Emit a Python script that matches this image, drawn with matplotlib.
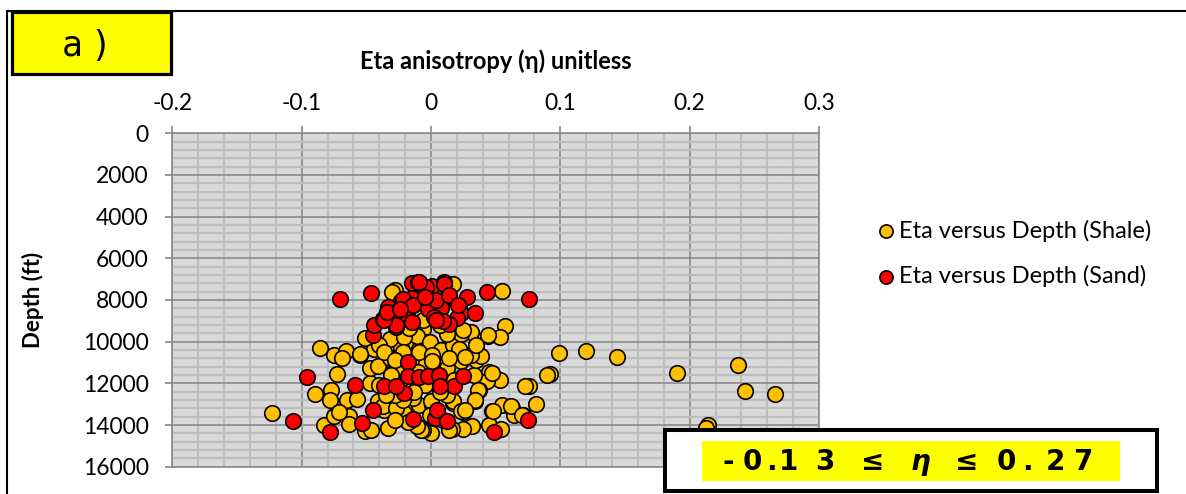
import numpy as np
import matplotlib.pyplot as plt
from matplotlib.patches import Rectangle
from matplotlib.lines import Line2D
from matplotlib.ticker import MultipleLocator, FixedLocator, FixedFormatter

# eta (unitless) and depth (ft) for shale samples
shale_eta = [0.099, 0.120, 0.144, 0.092, 0.190, 0.237, 0.243, 0.266, 0.081, 0.214,
             0.213, 0.076, -0.086, -0.075, -0.066, -0.069, -0.055, -0.073, -0.090, -0.077,
             -0.078, -0.065, -0.057, -0.047, -0.047, -0.044, -0.051, -0.123, -0.083, -0.075,
             -0.063, -0.063, -0.051, -0.046, -0.041, -0.036, -0.031, -0.033, -0.041, -0.055,
             0.055, 0.057, 0.044, 0.053, 0.031, 0.073, 0.053, 0.045, 0.043, 0.033,
             0.037, 0.034, 0.047, 0.055, 0.063, 0.064, 0.071, 0.045, 0.054, 0.032,
             0.025, 0.016, 0.000, -0.006, -0.033, -0.071, 0.025, 0.017, -0.026, -0.021,
             -0.009, 0.001, 0.023, 0.022, 0.011, 0.004, 0.035, 0.035, 0.039, 0.031,
             -0.006, -0.018, -0.023, -0.009, -0.004, -0.022, -0.014, -0.004, 0.004, 0.012,
             -0.028, 0.017, -0.030, -0.006, -0.011, -0.032, -0.021, -0.001, 0.008, 0.017,
             0.023, 0.012, 0.022, -0.022, -0.009, 0.001, 0.026, -0.032, -0.037, -0.027,
             -0.008, -0.011, 0.017, 0.023, 0.014, -0.014, 0.000, -0.022, 0.012, -0.024,
             0.001, 0.047, 0.036, 0.034, 0.026, 0.048, 0.062, 0.070, 0.090, 0.035,
             0.025, 0.044, -0.017, -0.005, 0.007, -0.013, 0.018, -0.028, -0.001, 0.009,
             -0.018, -0.028, -0.035, -0.031, -0.040, -0.010, 0.014, 0.007, -0.017, -0.024,
             -0.040, -0.036, -0.028]
shale_depth = [10520, 10430, 10740, 11560, 11510, 11130, 12360, 12530, 12980, 13990,
               14120, 12150, 10310, 10650, 10440, 10790, 10630, 11540, 12500, 12330,
               12790, 12790, 12740, 11990, 11270, 10330, 9830, 13430, 14020, 13590,
               13590, 13970, 14310, 14230, 12870, 13270, 9870, 10840, 11160, 10600,
               7550, 9250, 9710, 9760, 9520, 12150, 11860, 11460, 11880, 11580,
               12330, 12840, 13330, 13040, 13170, 13520, 13540, 14020, 14190, 14070,
               14190, 14180, 14380, 14240, 14150, 13360, 13380, 12920, 13110, 13440,
               13030, 13030, 10950, 10390, 10470, 10390, 10200, 10870, 10710, 10650,
               9400, 10110, 10310, 10330, 10000, 11030, 11190, 11030, 11350, 11270,
               7520, 7250, 7620, 8970, 9720, 9850, 9770, 10010, 10410, 10170,
               9610, 9610, 10330, 10490, 10490, 10650, 10730, 10790, 13110, 13190,
               14230, 14030, 12870, 13350, 14230, 12710, 12870, 12790, 12550, 11430,
               10950, 11510, 12310, 12790, 13270, 13350, 13110, 13540, 11590, 10170,
               9450, 9690, 11830, 12070, 12410, 12410, 11830, 12550, 13510, 13750,
               13840, 13750, 12550, 11590, 12070, 11450, 10780, 9200, 9340, 8960,
               10150, 10490, 10870]

# eta (unitless) and depth (ft) for sand samples
sand_eta = [-0.070, -0.046, -0.096, -0.059, -0.045, -0.044, -0.037, -0.107, -0.078, -0.053,
            -0.045, -0.036, -0.027, -0.018, -0.018, -0.009, -0.002, 0.006, 0.018, 0.025,
            0.007, -0.021, -0.014, 0.003, 0.005, 0.012, 0.049, 0.075, 0.076, 0.043,
            -0.015, -0.010, 0.001, 0.010, 0.012, 0.028, -0.006, -0.015, -0.023, -0.033,
            -0.032, -0.020, -0.015, -0.019, -0.002, 0.008, 0.004, 0.022, 0.023, 0.020,
            0.014, 0.009, 0.002, 0.034, -0.004, -0.009, 0.010, -0.022, -0.014, -0.005,
            0.014, 0.021, 0.004, -0.027, -0.015, -0.036, -0.034, -0.024, -0.027]
sand_depth = [7970, 7680, 11690, 12090, 9680, 9200, 8920, 13810, 14320, 13880,
              13270, 12150, 9280, 10970, 11670, 11700, 11670, 11580, 12120, 11640,
              12120, 12440, 13720, 13670, 13270, 13830, 14320, 13750, 7940, 7630,
              7200, 7120, 7330, 7150, 7840, 7870, 7790, 7920, 8030, 8320,
              8640, 8450, 9040, 8880, 8450, 8370, 8000, 8290, 8640, 8880,
              9150, 9010, 8800, 8640, 7360, 7140, 7220, 7940, 8250, 7860,
              7770, 8250, 8970, 9210, 9050, 8970, 8570, 8420, 12150]

x_ticks = [-0.2, -0.1, 0, 0.1, 0.2, 0.3]
x_labels = ['-0.2', '-0.1', '0', '0.1', '0.2', '0.3']
y_ticks = [0, 2000, 4000, 6000, 8000, 10000, 12000, 14000, 16000]
y_labels = ['0', '2000', '4000', '6000', '8000', '10000', '12000', '14000', '16000']

W, H = 1186, 494
plt.rcParams['font.family'] = ['Lato', 'DejaVu Sans']

fig = plt.figure(figsize=(W / 100, H / 100), dpi=100)
fig.patch.set_facecolor('white')


def fx(px):
    return px / W


def fy(py):
    return 1 - py / H


ax = fig.add_axes([fx(172.3), fy(466.7), fx(819) - fx(172.3), fy(133.3) - fy(466.7)])
ax.set_facecolor('#D9D9D9')
ax.set_xlim(-0.2, 0.3)
ax.set_ylim(16000, 0)

ax.xaxis.set_major_locator(FixedLocator(x_ticks))
ax.xaxis.set_major_formatter(FixedFormatter(x_labels))
ax.xaxis.set_minor_locator(MultipleLocator(0.02))
ax.yaxis.set_major_locator(FixedLocator(y_ticks))
ax.yaxis.set_major_formatter(FixedFormatter(y_labels))
ax.yaxis.set_minor_locator(MultipleLocator(400))

ax.xaxis.tick_top()
ax.xaxis.set_label_position('top')
ax.tick_params(which='major', direction='out', length=5, width=1.2, color='#868686',
               labelsize=16.5)
ax.tick_params(which='minor', length=0)
ax.tick_params(axis='x', pad=9)
ax.tick_params(axis='y', pad=12)

ax.grid(which='minor', color='#BEBEBE', lw=1.6, zorder=0)
ax.grid(which='major', color='#8A8A8A', lw=1.2, zorder=0)
ax.set_axisbelow(True)
for side in ['left', 'top', 'right', 'bottom']:
    ax.spines[side].set_color('#8A8A8A')
    ax.spines[side].set_linewidth(1.2)

ax.scatter(shale_eta, shale_depth, s=125, c='#FFC000', edgecolors='black',
           linewidths=1.2, zorder=3, label='Eta versus Depth (Shale)')
ax.scatter(sand_eta, sand_depth, s=125, c='#FF0000', edgecolors='black',
           linewidths=1.2, zorder=4, label='Eta versus Depth (Sand)')

ax.set_xlabel('Eta anisotropy (η) unitless', fontsize=17, fontweight='bold', labelpad=17)
ax.set_ylabel('Depth (ft)', fontsize=16, fontweight='bold', labelpad=28)

fig.legend(loc='upper left', bbox_to_anchor=(fx(865), fy(210)), frameon=False,
           fontsize=17, markerscale=0.85, handletextpad=0.05, labelspacing=1.0,
           borderaxespad=0, handlelength=1.0)

# outer chart frame
fig.add_artist(Line2D([fx(6.5), fx(6.5)], [0, fy(11)], color='black', lw=1.5))
fig.add_artist(Line2D([fx(6.5), 1], [fy(11), fy(11)], color='black', lw=1.5))

# panel tag
fig.add_artist(Rectangle((fx(11.5), fy(74.5)), fx(170.5) - fx(11.5), fy(12.5) - fy(74.5),
                         facecolor='#FFFF00', edgecolor='black', lw=2.3,
                         transform=fig.transFigure))
for ch, cx in zip(['a', ')'], [72, 101]):
    fig.text(fx(cx), fy(46), ch, fontsize=25, family='DejaVu Sans Mono',
             ha='center', va='center')

# range box
fig.add_artist(Rectangle((fx(665), fy(491)), fx(1157) - fx(665), fy(430) - fy(491),
                         facecolor='white', edgecolor='black', lw=2.9,
                         transform=fig.transFigure, zorder=5))
fig.add_artist(Rectangle((fx(702), fy(481)), fx(1120) - fx(702), fy(441) - fy(481),
                         facecolor='#FFFF00', edgecolor='none',
                         transform=fig.transFigure, zorder=6))
range_chars = ['-', '0', '.', '1', '3', '≤', 'η', '≤', '0', '.', '2', '7']
char_x = [728, 752, 771, 789, 825, 873, 920, 967, 1006, 1027, 1055, 1083]
for ch, cx in zip(range_chars, char_x):
    fig.text(fx(cx), fy(462), ch, fontsize=20, fontweight='heavy',
             family='DejaVu Sans', style='italic' if ch == 'η' else 'normal',
             ha='center', va='center', zorder=7)

fig.savefig('out.png', dpi=100)
